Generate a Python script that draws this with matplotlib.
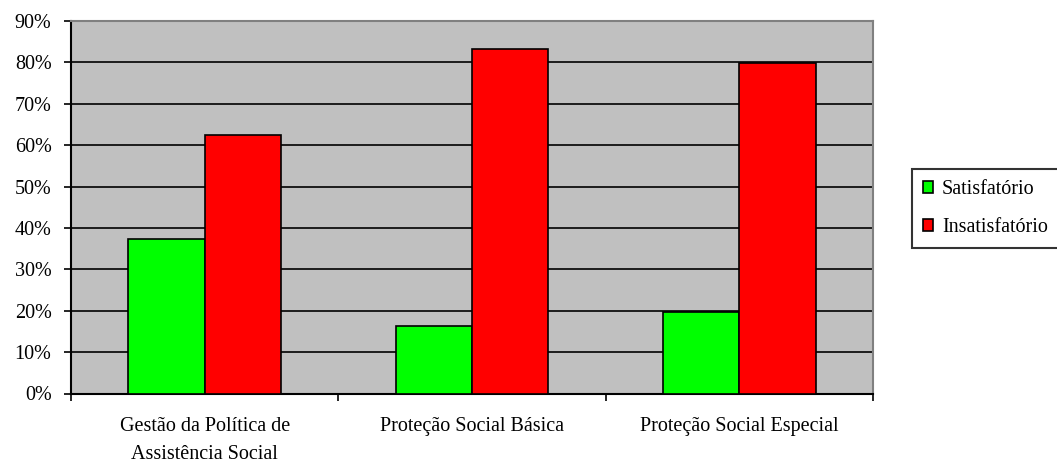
import matplotlib
matplotlib.use("Agg")
import matplotlib.pyplot as plt
import numpy as np
from matplotlib.patches import Patch
from matplotlib.ticker import PercentFormatter

categories = ["Gestão da Política de\nAssistência Social", "Proteção Social Básica", "Proteção Social Especial"]
series_names = ["Satisfatório", "Insatisfatório"]
satisfatorio = [0.373, 0.163, 0.197]
insatisfatorio = [0.624, 0.832, 0.798]
colors = ["#00FF00", "#FF0000"]
yticks = [0, 0.1, 0.2, 0.3, 0.4, 0.5, 0.6, 0.7, 0.8, 0.9]

plt.rcParams['font.family'] = ['Liberation Serif', 'DejaVu Serif']
fs = 14.5

fig = plt.figure(figsize=(10.57, 4.63), dpi=100)
ax = fig.add_axes([71/1057, 1 - 393.5/463, (873-71)/1057, (393.5-21)/463])
ax.set_facecolor("#C0C0C0")

x = np.arange(len(categories))
w = 1/3.5
ax.bar(x - w/2, satisfatorio, w, color=colors[0], edgecolor="black", linewidth=1.2, zorder=3)
ax.bar(x + w/2, insatisfatorio, w, color=colors[1], edgecolor="black", linewidth=1.2, zorder=3)

ax.set_ylim(0, 0.9)
ax.set_xlim(-0.5, len(categories) - 0.5)
ax.set_yticks(yticks)
ax.yaxis.set_major_formatter(PercentFormatter(1.0, decimals=0))
ax.yaxis.grid(True, color="black", linewidth=1.2, zorder=1)
ax.set_axisbelow(True)

ax.set_xticks(np.arange(-0.5, len(categories), 1.0))
ax.set_xticklabels([])
ax.set_xticks(x, minor=True)
ax.set_xticklabels(categories, minor=True, fontsize=fs, linespacing=1.6)
ax.tick_params(axis='x', which='minor', length=0, pad=17)
ax.tick_params(axis='x', which='major', length=5, width=1.2, direction='out')
ax.tick_params(axis='y', length=5, width=1.2, direction='out', labelsize=fs, pad=9)

for s in ["left", "bottom"]:
    ax.spines[s].set_color("black")
    ax.spines[s].set_linewidth(1.5)
for s in ["top", "right"]:
    ax.spines[s].set_color("#808080")
    ax.spines[s].set_linewidth(1.5)

handles = [Patch(facecolor=c, edgecolor="black", linewidth=1.2) for c in colors]
leg = fig.legend(handles, series_names, loc="upper left",
                 bbox_to_anchor=(911.7/1057, 1 - 169/463),
                 fontsize=fs, frameon=True, fancybox=False, edgecolor="black",
                 handlelength=0.5, handleheight=0.5, handletextpad=0.45,
                 labelspacing=0.95, borderpad=0.55, borderaxespad=0)
leg.get_frame().set_linewidth(1.5)

fig.savefig("out.png", dpi=100)
